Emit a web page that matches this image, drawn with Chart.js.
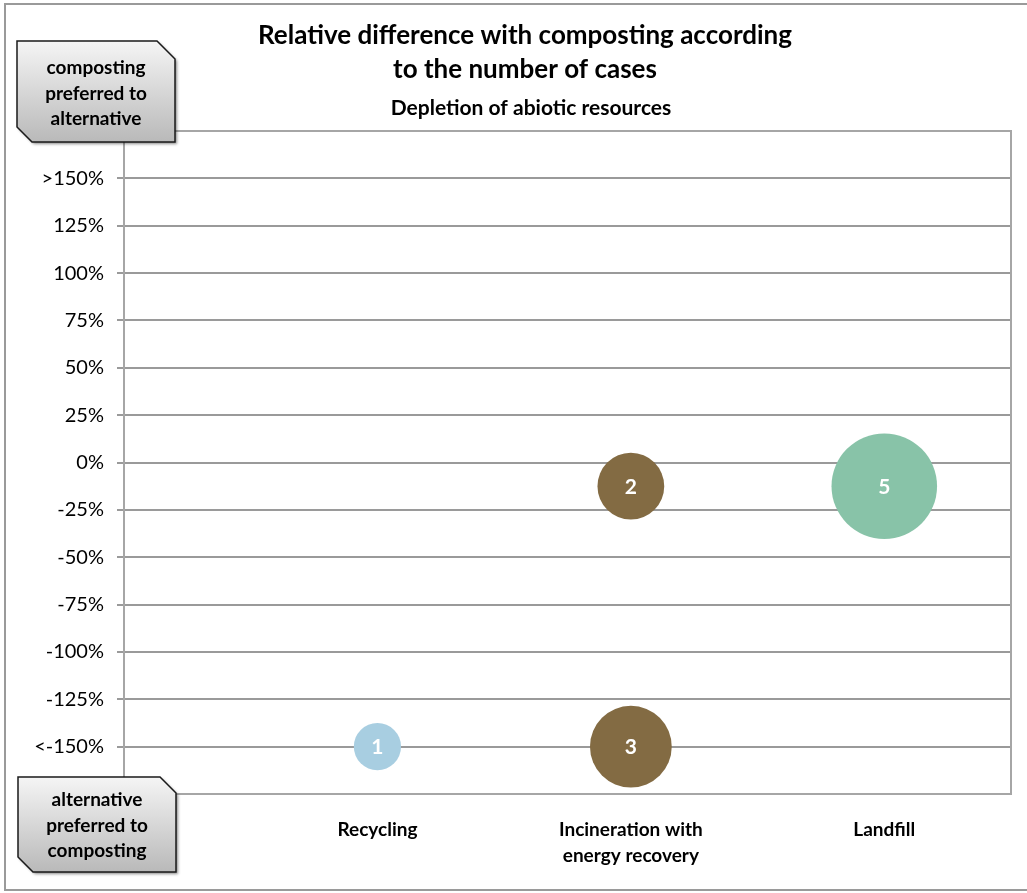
<!DOCTYPE html>
<html>
<head>
<meta charset="utf-8">
<title>Relative difference with composting according to the number of cases</title>
<script src="https://cdn.jsdelivr.net/npm/chart.js@4.4.1/dist/chart.umd.min.js"></script>
<style>
  html, body { margin: 0; padding: 0; background: #ffffff; }
  #wrap { position: relative; width: 1027px; height: 893px; overflow: hidden; }
  canvas { display: block; }
</style>
</head>
<body>
<div id="wrap"><canvas id="chart" width="1027" height="893"></canvas></div>
<script>
// Alternatives compared with composting (category positions 1, 2, 3 on the x axis)
const categories = ['Recycling', ['Incineration with', 'energy recovery'], 'Landfill'];
const categoryPositions = [1, 2, 3];

// Y axis ticks (relative difference, %) and their labels
const yTickValues = [150, 125, 100, 75, 50, 25, 0, -25, -50, -75, -100, -125, -150];
const yTickLabels = ['>150%', '125%', '100%', '75%', '50%', '25%', '0%', '-25%', '-50%', '-75%', '-100%', '-125%', '<-150%'];

// Bubbles per alternative: relative difference (%) and number of cases
const recyclingDiff = [-150];
const recyclingCases = [1];
const incinerationDiff = [-12.5, -150];
const incinerationCases = [2, 3];
const landfillDiff = [-12.5];
const landfillCases = [5];

const titleLines = ['Relative difference with composting according', 'to the number of cases'];
const subtitleText = 'Depletion of abiotic resources';
const topBoxLines = ['composting', 'preferred to', 'alternative'];
const bottomBoxLines = ['alternative', 'preferred to', 'composting'];

const FONT = 'Lato, "Open Sans", sans-serif';
const BUBBLE_SCALE = 23.6; // pixel radius of a one-case bubble (area grows with the count)

function bubbles(xPos, diffs, cases) {
  return diffs.map((d, i) => ({ x: xPos, y: d, r: BUBBLE_SCALE * Math.sqrt(cases[i]), n: cases[i] }));
}

// Outer frame, plot frame and snipped-corner callout boxes
const decorations = {
  id: 'decorations',
  beforeDraw(chart) {
    const ctx = chart.ctx;
    ctx.save();
    ctx.fillStyle = '#ffffff';
    ctx.fillRect(0, 0, chart.width, chart.height);
    ctx.strokeStyle = '#9a9a9a';
    ctx.lineWidth = 2;
    ctx.strokeRect(5, 4, chart.width + 20, 886);
    ctx.restore();
  },
  beforeDatasetsDraw(chart) {
    const { ctx, chartArea: a } = chart;
    ctx.save();
    ctx.strokeStyle = '#a6a6a6';
    ctx.lineWidth = 2;
    ctx.strokeRect(a.left, a.top, a.right - a.left, a.bottom - a.top);
    ctx.restore();
  },
  afterDraw(chart) {
    const ctx = chart.ctx;
    // chart titles
    ctx.save();
    ctx.fillStyle = '#000000';
    ctx.textAlign = 'center';
    ctx.textBaseline = 'middle';
    ctx.font = 'bold 26px ' + FONT;
    ctx.fillText(titleLines[0], 525, 36);
    ctx.fillText(titleLines[1], 525, 70);
    ctx.font = 'bold 21px ' + FONT;
    ctx.fillText(subtitleText, 531, 108);
    ctx.restore();

    drawCallout(ctx, 17, 41, 175, 142, 18, 15, topBoxLines, 96, 68);
    drawCallout(ctx, 18, 777, 176, 872, 16, 15, bottomBoxLines, 97, 800);
  }
};

function calloutPath(ctx, l, t, r, b, snipTR, snipBL) {
  ctx.beginPath();
  ctx.moveTo(l, t);
  ctx.lineTo(r - snipTR, t);
  ctx.lineTo(r, t + snipTR);
  ctx.lineTo(r, b);
  ctx.lineTo(l + snipBL, b);
  ctx.lineTo(l, b - snipBL);
  ctx.closePath();
}

function drawCallout(ctx, l, t, r, b, snipTR, snipBL, lines, cx, firstY) {
  ctx.save();
  // soft drop shadow
  ctx.shadowColor = 'rgba(0,0,0,0.45)';
  ctx.shadowBlur = 3;
  ctx.shadowOffsetX = 2;
  ctx.shadowOffsetY = 2;
  calloutPath(ctx, l, t, r, b, snipTR, snipBL);
  const g = ctx.createLinearGradient(0, t, 0, b);
  g.addColorStop(0, '#f5f5f5');
  g.addColorStop(1, '#b9b9b9');
  ctx.fillStyle = g;
  ctx.fill();
  ctx.shadowColor = 'transparent';
  ctx.strokeStyle = '#1a1a1a';
  ctx.lineWidth = 1.5;
  calloutPath(ctx, l, t, r, b, snipTR, snipBL);
  ctx.stroke();
  ctx.fillStyle = '#000000';
  ctx.textAlign = 'center';
  ctx.textBaseline = 'middle';
  ctx.font = 'bold 19px ' + FONT;
  lines.forEach((s, i) => ctx.fillText(s, cx, firstY + i * 25.5));
  ctx.restore();
}

// Case counts written in the middle of each bubble
const bubbleCounts = {
  id: 'bubbleCounts',
  afterDatasetsDraw(chart) {
    const ctx = chart.ctx;
    ctx.save();
    ctx.fillStyle = '#ffffff';
    ctx.textAlign = 'center';
    ctx.textBaseline = 'middle';
    ctx.font = 'bold 21px ' + FONT;
    chart.data.datasets.forEach((ds, di) => {
      chart.getDatasetMeta(di).data.forEach((el, i) => {
        ctx.fillText(String(ds.data[i].n), el.x, el.y + 1);
      });
    });
    ctx.restore();
  }
};

new Chart(document.getElementById('chart'), {
  type: 'bubble',
  data: {
    datasets: [
      { label: 'Recycling', data: bubbles(categoryPositions[0], recyclingDiff, recyclingCases),
        backgroundColor: '#a8cee1', borderWidth: 0 },
      { label: 'Incineration with energy recovery', data: bubbles(categoryPositions[1], incinerationDiff, incinerationCases),
        backgroundColor: '#836b43', borderWidth: 0 },
      { label: 'Landfill', data: bubbles(categoryPositions[2], landfillDiff, landfillCases),
        backgroundColor: '#88c3a8', borderWidth: 0 }
    ]
  },
  options: {
    responsive: false,
    animation: false,
    events: [],
    clip: false,
    layout: { autoPadding: false, padding: { top: 131, right: 16, left: 0, bottom: 0 } },
    plugins: { legend: { display: false }, tooltip: { enabled: false }, title: { display: false } },
    scales: {
      x: {
        type: 'linear',
        min: 0,
        max: 3.5,
        afterFit(scale) { scale.height = 99; scale.paddingLeft = 0; scale.paddingRight = 0; },
        afterBuildTicks(scale) { scale.ticks = categoryPositions.map(v => ({ value: v })); },
        grid: { display: false, drawTicks: false },
        border: { display: false },
        ticks: {
          autoSkip: false,
          maxRotation: 0,
          padding: 23,
          color: '#000000',
          font: { family: FONT, size: 19, weight: 'bold', lineHeight: 1.37 },
          callback: (v) => categories[categoryPositions.indexOf(v)]
        }
      },
      y: {
        type: 'linear',
        min: -175,
        max: 175,
        afterFit(scale) { scale.width = 124; scale.paddingTop = 0; scale.paddingBottom = 0; },
        afterBuildTicks(scale) { scale.ticks = yTickValues.map(v => ({ value: v })); },
        grid: { color: '#9a9a9a', lineWidth: 2, tickLength: 7, drawTicks: true },
        border: { display: true, color: '#9a9a9a', width: 2 },
        ticks: {
          autoSkip: false,
          padding: 13,
          color: '#000000',
          font: { family: FONT, size: 20 },
          callback: (v) => yTickLabels[yTickValues.indexOf(v)]
        }
      }
    }
  },
  plugins: [decorations, bubbleCounts]
});
</script>
</body>
</html>
